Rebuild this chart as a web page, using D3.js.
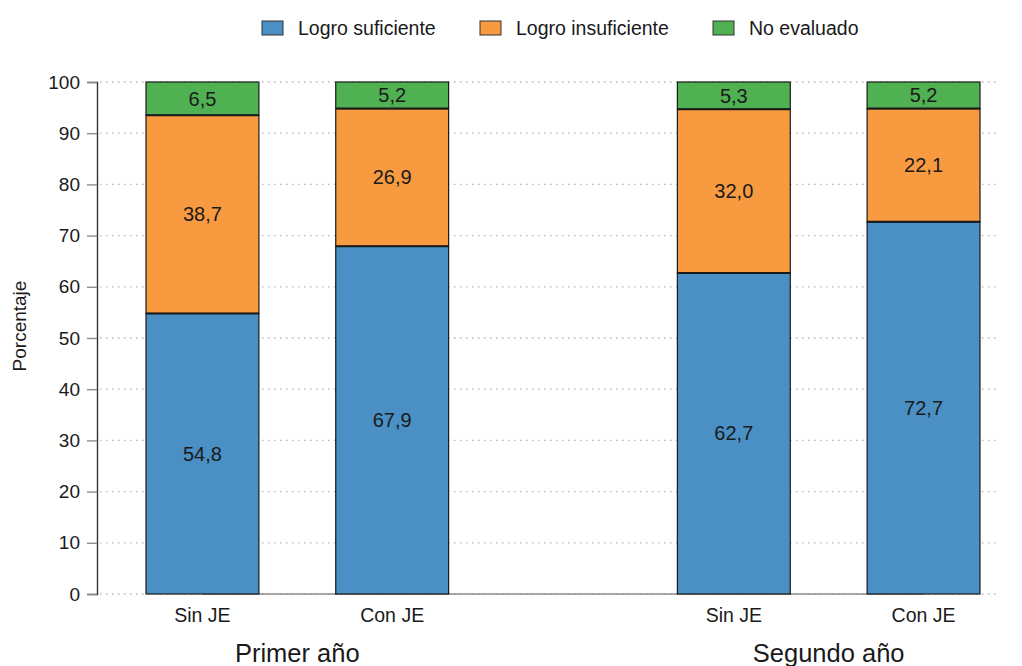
<!DOCTYPE html>
<html>
<head>
<meta charset="utf-8">
<script src="https://cdn.jsdelivr.net/npm/d3@7"></script>
<style>
  body { margin: 0; background: #fff; }
  text { font-family: "Liberation Sans", Arial, sans-serif; fill: #1a1a1a; }
</style>
</head>
<body>
<div id="wrapper"></div>
<script>
// data
const groups = ["Primer año", "Segundo año"];
const conditions = ["Sin JE", "Con JE"];
const seriesNames = ["Logro suficiente", "Logro insuficiente", "No evaluado"];
const seriesColors = ["#4a90c4", "#f89a40", "#4fb152"];
// values per bar: [group, condition]
const logroSuficiente = [54.8, 67.9, 62.7, 72.7];
const logroInsuficiente = [38.7, 26.9, 32.0, 22.1];
const noEvaluado = [6.5, 5.2, 5.3, 5.2];
const yTicks = [0, 10, 20, 30, 40, 50, 60, 70, 80, 90, 100];

const drawChart = () => {
  const width = 1022, height = 666;

  const svg = d3.select("#wrapper")
    .append("svg")
      .attr("width", width)
      .attr("height", height);

  // build bar table
  const bars = [];
  groups.forEach((g, gi) => {
    conditions.forEach((c, ci) => {
      const i = gi * conditions.length + ci;
      bars.push({group: g, cond: c, values: [logroSuficiente[i], logroInsuficiente[i], noEvaluado[i]]});
    });
  });

  const stack = d3.stack().keys([0, 1, 2]).value((d, k) => d.values[k]);
  const stacked = stack(bars);

  // scales
  const x0 = d3.scaleBand()
    .domain(groups)
    .range([146, 980])
    .paddingInner(0.4305)
    .paddingOuter(0);

  const x1 = d3.scaleBand()
    .domain(conditions)
    .range([0, x0.bandwidth()])
    .paddingInner(0.405)
    .paddingOuter(0);

  const y = d3.scaleLinear()
    .domain([0, 100])
    .range([594, 82]);

  const xPos = d => x0(d.group) + x1(d.cond);

  // gridlines (dotted)
  svg.append("g")
    .selectAll("line")
    .data(yTicks)
    .join("line")
      .attr("x1", 100)
      .attr("x2", 1000)
      .attr("y1", d => y(d))
      .attr("y2", d => y(d))
      .attr("stroke", "#b5b5b5")
      .attr("stroke-width", 1.3)
      .attr("stroke-dasharray", "1.5,4.5");

  // x axis line (gray from first to last bar center)
  const firstC = xPos(bars[0]) + x1.bandwidth() / 2;
  const lastC = xPos(bars[bars.length - 1]) + x1.bandwidth() / 2;
  svg.append("line")
    .attr("x1", firstC).attr("x2", lastC)
    .attr("y1", y(0)).attr("y2", y(0))
    .attr("stroke", "#8c8c8c")
    .attr("stroke-width", 1.6);

  // y axis
  const yAxis = svg.append("g")
    .attr("transform", "translate(97,0)")
    .call(d3.axisLeft(y).tickValues(yTicks).tickSize(10).tickPadding(7));
  yAxis.select(".domain").attr("stroke", "#333").attr("stroke-width", 1.4);
  yAxis.selectAll(".tick line").attr("stroke", "#909090").attr("stroke-width", 1.4);
  yAxis.selectAll(".tick text")
    .attr("font-size", 19)
    .attr("font-family", "Liberation Sans, Arial, sans-serif")
    .attr("fill", "#1a1a1a");

  // bars
  const layers = svg.append("g")
    .selectAll("g")
    .data(stacked)
    .join("g")
      .attr("fill", (d, i) => seriesColors[i]);

  layers.selectAll("rect")
    .data(d => d)
    .join("rect")
      .attr("x", d => xPos(d.data))
      .attr("width", x1.bandwidth())
      .attr("y", d => y(d[1]))
      .attr("height", d => y(d[0]) - y(d[1]))
      .attr("stroke", "#1a1a1a")
      .attr("stroke-width", 1.2);

  // boundary lines between segments (slightly heavier)
  layers.filter((d, i) => i > 0).selectAll("line")
    .data(d => d)
    .join("line")
      .attr("x1", d => xPos(d.data))
      .attr("x2", d => xPos(d.data) + x1.bandwidth())
      .attr("y1", d => y(d[0]))
      .attr("y2", d => y(d[0]))
      .attr("stroke", "#1a1a1a")
      .attr("stroke-width", 2);

  // value labels
  layers.selectAll("text")
    .data(d => d)
    .join("text")
      .attr("x", d => xPos(d.data) + x1.bandwidth() / 2)
      .attr("y", d => (y(d[0]) + y(d[1])) / 2)
      .attr("text-anchor", "middle")
      .attr("dominant-baseline", "central")
      .attr("font-size", 20)
      .text(d => d3.format(".1f")(d[1] - d[0]).replace(".", ","));

  // category labels
  svg.append("g")
    .selectAll("text")
    .data(bars)
    .join("text")
      .attr("x", d => xPos(d) + x1.bandwidth() / 2)
      .attr("y", 622)
      .attr("text-anchor", "middle")
      .attr("font-size", 19.5)
      .text(d => d.cond);

  // group labels
  svg.append("g")
    .selectAll("text")
    .data(groups)
    .join("text")
      .attr("x", d => x0(d) + x0.bandwidth() / 2)
      .attr("y", 662)
      .attr("text-anchor", "middle")
      .attr("font-size", 25.5)
      .text(d => d);

  // y axis title
  svg.append("text")
    .attr("transform", "translate(26,326) rotate(-90)")
    .attr("text-anchor", "middle")
    .attr("font-size", 19)
    .text("Porcentaje");

  // legend
  const legendX = [262, 480, 713];
  const legend = svg.append("g")
    .selectAll("g")
    .data(seriesNames)
    .join("g")
      .attr("transform", (d, i) => `translate(${legendX[i]},21)`);
  legend.append("rect")
    .attr("width", 21)
    .attr("height", 14)
    .attr("fill", (d, i) => seriesColors[i])
    .attr("stroke", "#333")
    .attr("stroke-width", 1);
  legend.append("text")
    .attr("x", 36)
    .attr("y", 7)
    .attr("dominant-baseline", "central")
    .attr("font-size", 19.5)
    .text(d => d);
};

drawChart();
</script>
</body>
</html>
